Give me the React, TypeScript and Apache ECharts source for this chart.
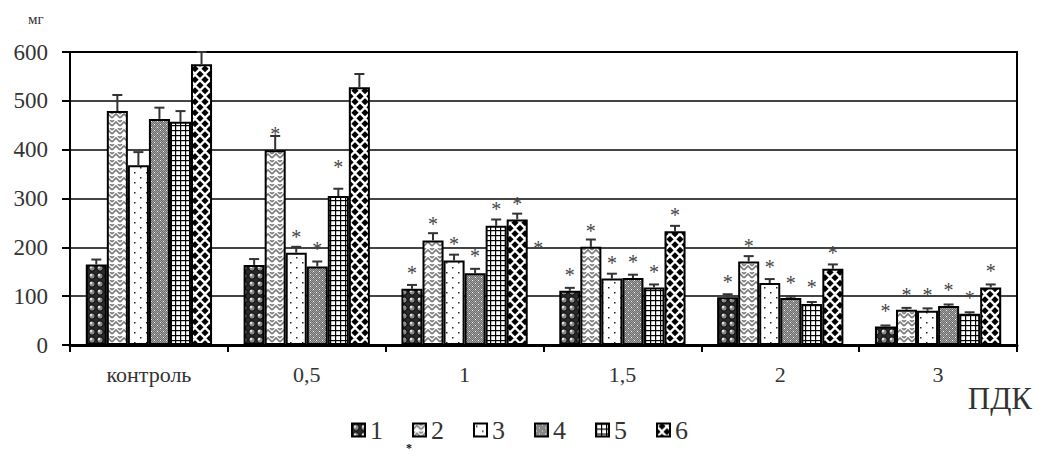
import React, { useEffect, useRef } from "react";
import * as echarts from "echarts";

const categories = ["контроль", "0,5", "1", "1,5", "2", "3"];
const seriesNames = ["1", "2", "3", "4", "5", "6"];
const yTicks = [0, 100, 200, 300, 400, 500, 600];

const s1 = [165, 164, 115, 111, 98, 38];
const s2 = [479, 399, 214, 201, 171, 72];
const s3 = [368, 189, 173, 136, 127, 70];
const s4 = [463, 161, 147, 137, 96, 80];
const s5 = [457, 305, 244, 118, 84, 64];
const s6 = [575, 528, 257, 233, 156, 118];

const e1 = [175, 176, 123, 117, 104, 40];
const e2 = [512, 428, 229, 216, 182, 76];
const e3 = [395, 201, 185, 146, 135, 75];
const e4 = [486, 171, 156, 144, 99, 83];
const e5 = [479, 320, 257, 124, 88, 67];
const e6 = [600, 555, 269, 244, 165, 124];

// significance marks: [category index, bar slot, value of the mark]
const stars: number[][] = [
  [1, 1, 443], [1, 2, 232], [1, 3, 207], [1, 4, 375],
  [2, 0, 158], [2, 1, 258], [2, 2, 217], [2, 3, 192], [2, 4, 288], [2, 5, 300], [2, 6, 208],
  [3, 0, 154], [3, 1, 244], [3, 2, 178], [3, 3, 181], [3, 4, 160], [3, 5, 277],
  [4, 0, 140], [4, 1, 213], [4, 2, 170], [4, 3, 138], [4, 4, 128], [4, 5, 199],
  [5, 0, 80], [5, 1, 113], [5, 2, 113], [5, 3, 122], [5, 4, 107], [5, 5, 162],
];

const values = [s1, s2, s3, s4, s5, s6];
const errors = [e1, e2, e3, e4, e5, e6];

const SERIF = "Liberation Serif";

function makeCanvas(w: number, h: number, draw: (c: CanvasRenderingContext2D) => void) {
  const cv = document.createElement("canvas");
  cv.width = w;
  cv.height = h;
  const ctx = cv.getContext("2d")!;
  draw(ctx);
  return cv;
}

function makePatterns() {
  const p1 = makeCanvas(8, 8, (c) => {
    c.fillStyle = "#2a2a2a";
    c.fillRect(0, 0, 8, 8);
    c.fillStyle = "#8a8a8a";
    c.strokeStyle = "#000";
    c.lineWidth = 1;
    c.beginPath();
    c.arc(4, 4, 3.2, 0, Math.PI * 2);
    c.fill();
    c.stroke();
    c.fillStyle = "#e8e8e8";
    c.beginPath();
    c.arc(3, 3, 1.2, 0, Math.PI * 2);
    c.fill();
  });
  const p2 = makeCanvas(8, 8, (c) => {
    c.fillStyle = "#fff";
    c.fillRect(0, 0, 8, 8);
    c.strokeStyle = "#7a7a7a";
    c.lineWidth = 1.6;
    c.beginPath();
    c.moveTo(0, 6);
    c.lineTo(4, 2);
    c.lineTo(8, 6);
    c.stroke();
    c.beginPath();
    c.moveTo(0, 2);
    c.lineTo(2, 0);
    c.moveTo(6, 0);
    c.lineTo(8, 2);
    c.stroke();
  });
  const p3 = makeCanvas(12, 10, (c) => {
    c.fillStyle = "#fff";
    c.fillRect(0, 0, 12, 10);
    c.fillStyle = "#222";
    c.fillRect(2, 2, 1.5, 1.5);
    c.fillRect(8, 7, 1.5, 1.5);
  });
  const p4 = makeCanvas(6, 6, (c) => {
    c.fillStyle = "#6e6e6e";
    c.fillRect(0, 0, 6, 6);
    c.fillStyle = "#a0a0a0";
    for (let y = 0; y < 6; y++) for (let x = 0; x < 6; x++) if ((x + y) % 2 === 0) c.fillRect(x, y, 1, 1);
    c.fillStyle = "#fff";
    c.fillRect(1, 1, 1, 1);
    c.fillRect(4, 4, 1, 1);
  });
  const p5 = makeCanvas(5, 5, (c) => {
    c.fillStyle = "#fff";
    c.fillRect(0, 0, 5, 5);
    c.fillStyle = "#000";
    c.fillRect(0, 0, 5, 1.2);
    c.fillRect(0, 0, 1.2, 5);
  });
  const p6 = makeCanvas(10, 11, (c) => {
    c.fillStyle = "#fff";
    c.fillRect(0, 0, 10, 11);
    c.fillStyle = "#000";
    const dia = (cx: number, cy: number) => {
      c.beginPath();
      c.moveTo(cx, cy - 3.6);
      c.lineTo(cx + 3.6, cy);
      c.lineTo(cx, cy + 3.6);
      c.lineTo(cx - 3.6, cy);
      c.closePath();
      c.fill();
    };
    dia(5, 2.75);
    dia(5, 2.75 + 11);
    dia(0, 8.25);
    dia(10, 8.25);
    dia(0, 8.25 - 11);
    dia(10, 8.25 - 11);
  });
  return [p1, p2, p3, p4, p5, p6];
}

export default function App() {
  const ref = useRef<HTMLDivElement>(null);

  useEffect(() => {
    if (!ref.current) return;
    const chart = echarts.init(ref.current, undefined, { renderer: "svg" });
    const patterns = makePatterns();
    const BAR_FRAC = 0.8;
    const N = 6;

    const barSeries = seriesNames.map((name, i) => ({
      name,
      type: "bar" as const,
      data: values[i],
      barGap: "0%",
      barCategoryGap: "20%",
      itemStyle: {
        color: { image: patterns[i], repeat: "repeat" },
        borderColor: "#000",
        borderWidth: 2,
      },
      z: 2,
    }));

    const errData: number[][] = [];
    errors.forEach((arr, si) => arr.forEach((e, ci) => errData.push([ci, si, values[si][ci], e])));

    const errSeries = {
      type: "custom" as const,
      data: errData,
      encode: { x: 0, y: [2, 3] },
      z: 3,
      silent: true,
      itemStyle: { color: "#333" },
      renderItem: (params: any, api: any) => {
        const ci = api.value(0);
        const si = api.value(1);
        const base = api.coord([ci, 0]);
        const cw = api.size([1, 0])[0];
        const bw = (cw * BAR_FRAC) / N;
        const x = base[0] + (si - (N - 1) / 2) * bw;
        const yTop = api.coord([ci, api.value(2)])[1];
        const yErr = api.coord([ci, api.value(3)])[1];
        const st = { stroke: "#333", lineWidth: 2 };
        return {
          type: "group",
          children: [
            { type: "line", shape: { x1: x, y1: yTop, x2: x, y2: yErr }, style: st },
            { type: "line", shape: { x1: x - 5, y1: yErr, x2: x + 5, y2: yErr }, style: st },
          ],
        };
      },
    };

    const starSeries = {
      type: "custom" as const,
      data: stars,
      encode: { x: 0, y: 2 },
      z: 4,
      silent: true,
      itemStyle: { color: "#444" },
      renderItem: (params: any, api: any) => {
        const ci = api.value(0);
        const slot = api.value(1);
        const base = api.coord([ci, 0]);
        const cw = api.size([1, 0])[0];
        const bw = (cw * BAR_FRAC) / N;
        const x = base[0] + (slot - (N - 1) / 2) * bw;
        const y = api.coord([ci, api.value(2)])[1];
        return {
          type: "text",
          x,
          y: y + 5,
          style: {
            text: "*",
            fontSize: 20,
            fontFamily: SERIF,
            fill: "#444",
            align: "center",
            verticalAlign: "middle",
          },
        };
      },
    };

    chart.setOption({
      animation: false,
      backgroundColor: "#fff",
      textStyle: { fontFamily: SERIF },
      grid: { left: 70, right: 32, top: 52, bottom: 111, containLabel: false, outerBoundsMode: "none" },
      legend: {
        data: seriesNames,
        bottom: 8,
        left: 346,
        icon: "rect",
        itemWidth: 13,
        itemHeight: 13,
        itemGap: 29,
        textStyle: { fontFamily: SERIF, fontSize: 26, color: "#333" },
      },
      xAxis: {
        type: "category",
        data: categories,
        axisLine: { show: true, lineStyle: { color: "#000", width: 3 } },
        axisTick: { show: true, length: 7, lineStyle: { color: "#000", width: 2 } },
        axisLabel: { fontFamily: SERIF, fontSize: 22, color: "#333", margin: 18 },
        splitLine: { show: false },
      },
      yAxis: [
        {
          type: "value",
          min: yTicks[0],
          max: yTicks[yTicks.length - 1],
          interval: 100,
          axisLine: { show: true, lineStyle: { color: "#000", width: 2 } },
          axisTick: { show: true, length: 8, lineStyle: { color: "#000", width: 2 } },
          axisLabel: { fontFamily: SERIF, fontSize: 23, color: "#333", margin: 22 },
          splitLine: { show: true, lineStyle: { color: "#444", width: 2 } },
        },
      ],
      graphic: [
        {
          type: "rect",
          shape: { x: 70, y: 52, width: 947, height: 293 },
          style: { fill: "none", stroke: "#000", lineWidth: 2 },
          silent: true,
          z: 1,
        },
        {
          type: "text",
          left: 28,
          top: 11,
          style: { text: "мг", fontFamily: SERIF, fontSize: 15, fill: "#333" },
        },
        {
          type: "text",
          right: 17,
          top: 383,
          style: { text: "ПДК", fontFamily: SERIF, fontSize: 31, fill: "#333" },
        },
        {
          type: "text",
          left: 406,
          top: 442,
          style: { text: "*", fontFamily: SERIF, fontSize: 12, fontWeight: "bold", fill: "#111" },
        },
      ],
      series: [...barSeries, errSeries, starSeries],
    });

    return () => chart.dispose();
  }, []);

  return <div ref={ref} style={{ width: 1049, height: 456, position: "absolute", left: 0, top: 0 }} />;
}
